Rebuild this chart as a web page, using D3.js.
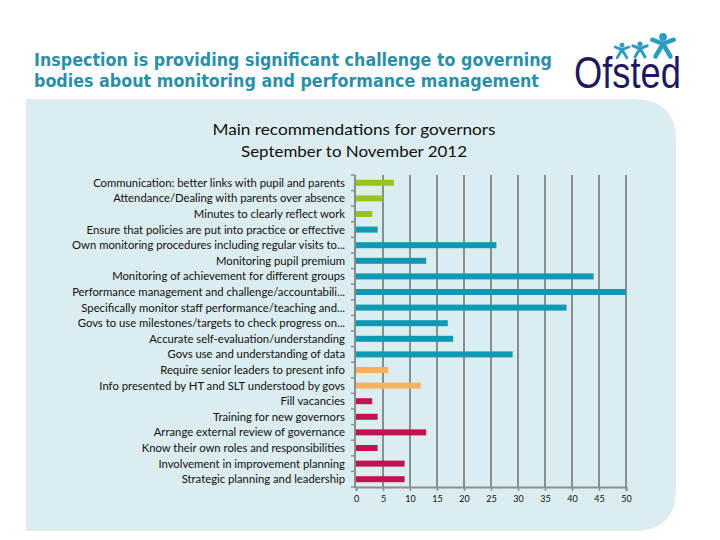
<!DOCTYPE html>
<html><head><meta charset="utf-8">
<script src="https://cdn.jsdelivr.net/npm/d3@7"></script>
<style>body{margin:0;background:#fff}svg{display:block}</style>
</head><body>
<svg id="c" width="720" height="540"></svg>
<script>
const categories = [
 "Communication: better links with pupil and parents",
 "Attendance/Dealing with parents over absence",
 "Minutes to clearly reflect work",
 "Ensure that policies are put into practice or effective",
 "Own monitoring procedures including regular visits to...",
 "Monitoring pupil premium",
 "Monitoring of achievement for different groups",
 "Performance management and challenge/accountabili...",
 "Specifically monitor staff performance/teaching and...",
 "Govs to use milestones/targets to check progress on...",
 "Accurate self-evaluation/understanding",
 "Govs use and understanding of data",
 "Require senior leaders to present info",
 "Info presented by HT and SLT understood by govs",
 "Fill vacancies",
 "Training for new governors",
 "Arrange external review of governance",
 "Know their own roles and responsibilities",
 "Involvement in improvement planning",
 "Strategic planning and leadership"
];
const values = [7,5,3,4,26,13,44,50,39,17,18,29,6,12,3,4,13,4,9,9];
const groups = ["green","green","green","teal","teal","teal","teal","teal","teal","teal","teal","teal","orange","orange","crimson","crimson","crimson","crimson","crimson","crimson"];
const groupColors = {green:"#99c21d", teal:"#1199b3", orange:"#f4b35c", crimson:"#c01350"};
const xTicks = [0,5,10,15,20,25,30,35,40,45,50];
const pageTitle = ["Inspection is providing significant challenge to governing","bodies about monitoring and performance management"];
const chartTitle = ["Main recommendations for governors","September to November 2012"];

const svg = d3.select("#c");

// panel with rounded right corners
const px0=26, px1=676, py0=99, py1=531, r=42;
svg.append("path")
 .attr("d",`M${px0},${py0} H${px1-r} Q${px1},${py0} ${px1},${py0+r} V${py1-r} Q${px1},${py1} ${px1-r},${py1} H${px0} Z`)
 .attr("fill","#dbedf0");

// page title
svg.selectAll("text.pt").data(pageTitle).join("text")
 .attr("class","pt")
 .attr("x",34).attr("y",(d,i)=>66+i*21)
 .attr("font-family","'DejaVu Sans Condensed','DejaVu Sans',sans-serif")
 .attr("font-weight","bold").attr("font-size",17)
 .attr("fill","#2b8fa8")
 .attr("textLength",(d,i)=>i===0?518:505)
 .attr("lengthAdjust","spacingAndGlyphs")
 .text(d=>d);

// logo
const logo = svg.append("g");
logo.append("text").attr("x",574).attr("y",88)
 .attr("font-family","'Liberation Sans Narrow','Liberation Sans',sans-serif")
 .attr("font-size",44).attr("fill","#1f1a5e")
 .attr("textLength",107).attr("lengthAdjust","spacingAndGlyphs")
 .text("Ofsted");
function figure(cx,cy,s){
  logo.append("circle").attr("cx",cx).attr("cy",cy-s*0.6).attr("r",s*0.26).attr("fill","#2b9cc4");
  logo.append("path")
   .attr("d",`M${cx-s*0.72},${cy-s*0.42} L${cx},${cy-s*0.15} L${cx+s*0.72},${cy-s*0.42} M${cx},${cy-s*0.15} L${cx-s*0.5},${cy+s*0.7} M${cx},${cy-s*0.15} L${cx+s*0.5},${cy+s*0.7}`)
   .attr("stroke","#2b9cc4").attr("stroke-width",s*0.3).attr("stroke-linecap","round").attr("stroke-linejoin","round").attr("fill","none");
}
figure(622,51,9.5);
figure(640,50,10);
figure(663,46,15);

// chart title
svg.selectAll("text.ct").data(chartTitle).join("text")
 .attr("class","ct")
 .attr("x",354).attr("y",(d,i)=>135+i*22)
 .attr("text-anchor","middle")
 .attr("font-family","Lato,'Open Sans',sans-serif")
 .attr("font-size",15).attr("fill","#111")
 .attr("textLength",(d,i)=>i===0?283:226)
 .attr("lengthAdjust","spacingAndGlyphs")
 .text(d=>d);

// scales
const x = d3.scaleLinear().domain([0,50]).range([356,626]);
const yb = d3.scaleBand().domain(categories).range([175,487]);
const grid = "#878f8f";

// gridlines
svg.append("g").selectAll("line").data(xTicks.slice(1)).join("line")
 .attr("x1",d=>x(d)).attr("x2",d=>x(d)).attr("y1",175).attr("y2",487)
 .attr("stroke",grid).attr("stroke-width",2);

// bars
svg.append("g").selectAll("rect").data(values).join("rect")
 .attr("x",x(0)).attr("y",(d,i)=>yb(categories[i])+yb.bandwidth()/2-3)
 .attr("width",d=>x(d)-x(0)).attr("height",6)
 .attr("fill",(d,i)=>groupColors[groups[i]]);

// left axis with boundary ticks
const la = svg.append("g");
la.append("line").attr("x1",355).attr("x2",355).attr("y1",175).attr("y2",488).attr("stroke",grid).attr("stroke-width",2);
la.selectAll("line.t").data(d3.range(categories.length+1)).join("line").attr("class","t")
 .attr("x1",351).attr("x2",355)
 .attr("y1",i=>175+i*yb.step()).attr("y2",i=>175+i*yb.step())
 .attr("stroke",grid).attr("stroke-width",1.5);

// category labels
svg.append("g").selectAll("text").data(categories).join("text")
 .attr("x",345).attr("y",d=>yb(d)+yb.bandwidth()/2)
 .attr("dy","0.35em").attr("text-anchor","end")
 .attr("font-family","Lato,'Open Sans',sans-serif")
 .attr("font-size",11.3).attr("fill","#111")
 .text(d=>d);

// bottom axis
const xa = svg.append("g").attr("transform","translate(0,487)")
 .call(d3.axisBottom(x).tickValues(xTicks).tickSize(4).tickPadding(5));
xa.select(".domain").attr("stroke",grid).attr("stroke-width",2);
xa.selectAll(".tick line").attr("stroke",grid).attr("stroke-width",1.5);
xa.selectAll(".tick text").attr("font-family","Lato,'Open Sans',sans-serif").attr("font-size",9).attr("fill","#111");
</script>
</body></html>
